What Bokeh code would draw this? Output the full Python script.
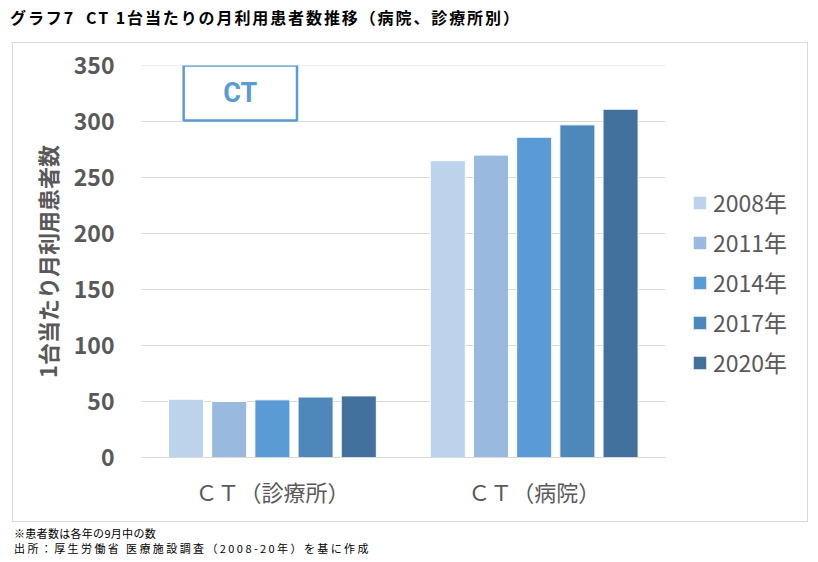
from bokeh.plotting import figure
from bokeh.layouts import column
from bokeh.models import (Range1d, Label, BoxAnnotation, Legend,
                          LegendItem, ColumnDataSource, FixedTicker, Div)
from bokeh.transform import dodge
from bokeh.embed import file_html
from bokeh.resources import INLINE

categories = ["ＣＴ（診療所）", "ＣＴ（病院）"]
years = ["2008年", "2011年", "2014年", "2017年", "2020年"]
clinic = [52, 50, 51.5, 54, 55]
hospital = [265, 270, 286, 297, 311]
y_ticks = [0, 50, 100, 150, 200, 250, 300, 350]
colors = ["#BDD2EB", "#99B9DF", "#5B9BD5", "#4E88BB", "#41719C"]

title_text = "グラフ7&nbsp;&nbsp;CT 1台当たりの月利用患者数推移（病院、診療所別）"
note1 = "※患者数は各年の9月中の数"
note2 = "出所：厚生労働省 医療施設調査（2008-20年）を基に作成"

FONT = "Noto Sans CJK JP"
GRAY = "#595959"

# category slot positions on a numeric axis (slot i centred at i + 0.5)
cat_pos = [i + 0.5 for i in range(len(categories))]

# ---- title strip (HTML)
title_div = Div(text=title_text, width=818, height=42, margin=0,
                styles={"font-family": FONT, "font-weight": "bold",
                        "font-size": "16px", "line-height": "18px",
                        "letter-spacing": "1.9px",
                        "padding-left": "10px", "padding-top": "8px",
                        "color": "black", "box-sizing": "border-box"})

# ---- main chart
MW, MH = 796, 480
ML, MR, MT, MB = 128, 2, 22, 66
SLOT_PX = 261                       # pixel width of one category slot
x_end = (MW - 2 - ML - MR) / SLOT_PX
p = figure(width=MW, height=MH, title=None, x_range=Range1d(0, x_end),
           y_range=Range1d(0, 350), output_backend="svg", toolbar_location=None,
           min_border_left=ML, min_border_right=MR, min_border_top=MT,
           min_border_bottom=MB)
p.margin = (0, 0, 0, 12)
p.styles = {"border": "1px solid #D9D9D9"}
p.outline_line_color = None

# horizontal gridlines limited to the category area
p.xgrid.grid_line_color = None
p.ygrid.grid_line_color = None
p.segment(x0=[0] * len(y_ticks), x1=[len(categories)] * len(y_ticks),
          y0=y_ticks, y1=y_ticks, line_color="#D9D9D9", line_width=1)

offsets = [-0.33, -0.165, 0.0, 0.165, 0.33]
items = []
for i, yr in enumerate(years):
    src = ColumnDataSource(dict(pos=cat_pos, val=[clinic[i], hospital[i]]))
    r = p.vbar(x=dodge("pos", offsets[i]), top="val", width=0.134,
               source=src, fill_color=colors[i], line_color="white", line_width=1)
    items.append(LegendItem(label=yr, renderers=[r]))

p.yaxis.ticker = FixedTicker(ticks=y_ticks)
p.yaxis.axis_line_color = None
p.yaxis.major_tick_line_color = None
p.yaxis.minor_tick_line_color = None
p.yaxis.major_label_text_font = FONT
p.yaxis.major_label_text_font_style = "bold"
p.yaxis.major_label_text_font_size = "23px"
p.yaxis.major_label_text_color = GRAY
p.yaxis.major_label_standoff = 21
p.yaxis.axis_label = "1台当たり月利用患者数"
p.yaxis.axis_label_text_font = FONT
p.yaxis.axis_label_text_font_style = "bold"
p.yaxis.axis_label_text_font_size = "22px"
p.yaxis.axis_label_text_color = GRAY
p.yaxis.axis_label_standoff = 8

p.xaxis.ticker = FixedTicker(ticks=cat_pos)
p.xaxis.major_label_overrides = {pos: c for pos, c in zip(cat_pos, categories)}
p.xaxis.bounds = (0, len(categories))
p.xaxis.axis_line_color = "#D9D9D9"
p.xaxis.major_tick_line_color = None
p.xaxis.minor_tick_line_color = None
p.xaxis.major_label_text_font = FONT
p.xaxis.major_label_text_font_size = "22px"
p.xaxis.major_label_text_color = GRAY
p.xaxis.major_label_standoff = 11

legend = Legend(items=items, location=(550, 78), orientation="vertical",
                glyph_width=17, glyph_height=17, label_height=20, spacing=6,
                label_standoff=5, padding=0, margin=0,
                border_line_color=None, background_fill_alpha=0,
                label_text_font=FONT, label_text_font_size="23px",
                label_text_color=GRAY)
p.add_layout(legend)

p.add_layout(BoxAnnotation(left=0.161, right=0.594, top=350, bottom=301,
                           fill_color=None, fill_alpha=0, line_color="#5B9BD5",
                           line_alpha=1, line_width=2.5))
p.add_layout(Label(x=0.3775, y=325.5, text="CT", text_align="center",
                   text_baseline="middle", text_font="Roboto",
                   text_font_style="bold", text_font_size="27px",
                   text_color="#5B9BD5"))

# ---- notes strip (HTML)
notes_html = ('<span style="letter-spacing:0.3px">' + note1 + '</span><br>'
              '<span style="letter-spacing:2.4px">' + note2 + '</span>')
notes_div = Div(text=notes_html, width=818, height=38, margin=0,
                styles={"font-family": FONT, "font-size": "11px",
                        "line-height": "15px",
                        "padding-left": "14px", "padding-top": "4px",
                        "color": "black", "box-sizing": "border-box"})

layout = column(title_div, p, notes_div, spacing=0)
open("out.html", "w").write(file_html(layout, INLINE))
